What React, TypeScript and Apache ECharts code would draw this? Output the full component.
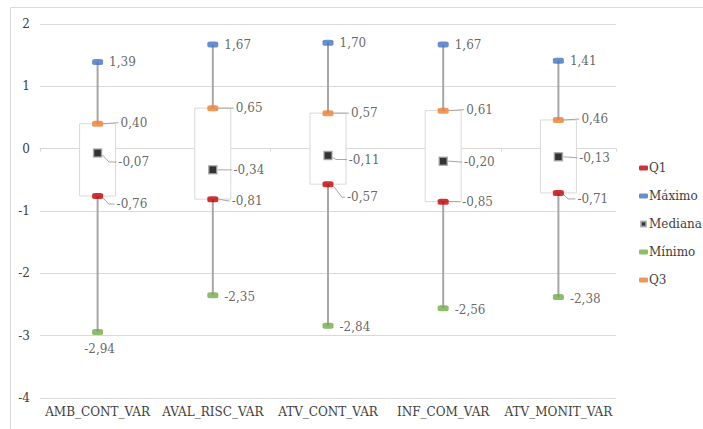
import React, { useEffect, useRef } from "react";
import * as echarts from "echarts";

const categories = ["AMB_CONT_VAR", "AVAL_RISC_VAR", "ATV_CONT_VAR", "INF_COM_VAR", "ATV_MONIT_VAR"];
const q1 = [-0.76, -0.81, -0.57, -0.85, -0.71];
const maximo = [1.39, 1.67, 1.7, 1.67, 1.41];
const mediana = [-0.07, -0.34, -0.11, -0.2, -0.13];
const minimo = [-2.94, -2.35, -2.84, -2.56, -2.38];
const q3 = [0.4, 0.65, 0.57, 0.61, 0.46];
const yMin = -4;
const yMax = 2;
const yStep = 1;

const FONT = "DejaVu Serif";
const FS = 12;
const fmt = (v: number) => v.toFixed(2).replace(".", ",");

export default function App() {
  const ref = useRef<HTMLDivElement>(null);
  useEffect(() => {
    if (!ref.current) return;
    const chart = echarts.init(ref.current, null, { renderer: "svg" });

    // label layout tweaks (pixels, relative to marker centre)
    const Q3_DX = 23, MED_DX = 21, Q1_DX = 19;
    const q3Dy = [-1, 0, 0, -1, -1];
    const medDy = [9, 0, 4, 1, 1];
    const q1Dy = [8, 2, 13, 0, 6];
    const DASH_HALF = 5.5;

    const labelBase = {
      show: true,
      fontFamily: FONT,
      fontSize: FS,
      color: "#404040",
      formatter: (p: any) => fmt(p.value[1]),
    };

    const mkItems = (arr: number[], dx: number, dys: number[], half: number) =>
      arr.map((v, i) => ({
        value: [i, v],
        label: { position: "right", distance: 0, offset: [dx - half, dys[i]] },
      }));

    const boxData = categories.map((_, i) => [i, minimo[i], q1[i], mediana[i], q3[i], maximo[i]]);
    const leaderData = categories.map((_, i) => [i, q1[i], mediana[i], q3[i]]);

    const option: any = {
      animation: false,
      backgroundColor: "#ffffff",
      textStyle: { fontFamily: FONT },
      graphic: [
        {
          type: "rect",
          silent: true,
          z: -10,
          shape: { x: 10.5, y: 7.5, width: 800, height: 500 },
          style: { fill: "none", stroke: "#d9d9d9", lineWidth: 1 },
        },
      ],
      grid: { left: 40, right: 87, top: 24, bottom: 31 },
      legend: {
        orient: "vertical",
        left: 634,
        top: 155,
        itemWidth: 9,
        itemHeight: 5,
        itemGap: 12,
        textStyle: { fontFamily: FONT, fontSize: FS, color: "#404040", lineHeight: 16, padding: [0, 0, 0, -4] },
        data: [
          { name: "Q1" },
          { name: "Máximo" },
          { name: "Mediana", icon: "path://M0,0h10v10h-10z" },
          { name: "Mínimo" },
          { name: "Q3" },
        ],
      },
      xAxis: [
        {
          type: "category",
          data: categories,
          position: "bottom",
          axisLine: { show: false, onZero: false },
          axisTick: { show: false },
          axisLabel: { fontFamily: FONT, fontSize: FS, color: "#404040", margin: 8, interval: 0 },
          splitLine: { show: false },
        },
        {
          type: "category",
          data: categories,
          position: "bottom",
          axisLine: { show: true, onZero: true, lineStyle: { color: "#d9d9d9", width: 1 } },
          axisTick: { show: true, length: 3, lineStyle: { color: "#d9d9d9" } },
          axisLabel: { show: false },
          splitLine: { show: false },
        },
      ],
      yAxis: {
        type: "value",
        min: yMin,
        max: yMax,
        interval: yStep,
        axisLine: { show: false },
        axisTick: { show: false },
        axisLabel: { fontFamily: FONT, fontSize: FS, color: "#404040", margin: 10 },
        splitLine: { lineStyle: { color: "#d9d9d9", width: 1 } },
      },
      series: [
        {
          type: "custom",
          name: "box",
          xAxisIndex: 0,
          z: 1,
          silent: true,
          data: boxData,
          encode: { x: 0, y: [1, 2, 3, 4, 5] },
          renderItem: (params: any, api: any) => {
            const i = api.value(0);
            const pMin = api.coord([i, api.value(1)]);
            const pQ1 = api.coord([i, api.value(2)]);
            const pQ3 = api.coord([i, api.value(4)]);
            const pMax = api.coord([i, api.value(5)]);
            const w = 36;
            const lineStyle = { stroke: "#a6a6a6", lineWidth: 2 };
            return {
              type: "group",
              children: [
                {
                  type: "rect",
                  shape: { x: pQ3[0] - w / 2, y: pQ3[1], width: w, height: pQ1[1] - pQ3[1] },
                  style: { fill: "#ffffff", stroke: "#d9d9d9", lineWidth: 1 },
                },
                { type: "line", shape: { x1: pMax[0], y1: pMax[1], x2: pQ3[0], y2: pQ3[1] }, style: lineStyle },
                { type: "line", shape: { x1: pQ1[0], y1: pQ1[1], x2: pMin[0], y2: pMin[1] }, style: lineStyle },
              ],
            };
          },
        },
        {
          type: "custom",
          name: "leaders",
          xAxisIndex: 0,
          z: 2,
          silent: true,
          data: leaderData,
          encode: { x: 0, y: [1, 2, 3] },
          renderItem: (params: any, api: any) => {
            const i = api.value(0);
            const specs = [
              { v: api.value(1), dx: Q1_DX, dy: q1Dy[i], half: DASH_HALF },
              { v: api.value(2), dx: MED_DX, dy: medDy[i], half: 5 },
              { v: api.value(3), dx: Q3_DX, dy: q3Dy[i], half: DASH_HALF },
            ];
            const children = specs.map((s) => {
              const p = api.coord([i, s.v]);
              const start = [p[0] + s.half, p[1] + (Math.abs(s.dy) > 2 ? 2 : 0)];
              const end = [p[0] + s.dx - 2, p[1] + s.dy];
              const pts =
                Math.abs(s.dy) > 2
                  ? [start, [Math.min(p[0] + s.half + Math.abs(s.dy) * 0.7, end[0] - 3), p[1] + s.dy], end]
                  : [start, end];
              return {
                type: "polyline",
                shape: { points: pts },
                style: { stroke: "#a6a6a6", lineWidth: 1, fill: "none" },
              };
            });
            return { type: "group", children };
          },
        },
        {
          type: "scatter",
          name: "Q1",
          z: 3,
          symbol: "roundRect",
          symbolSize: [11, 6],
          itemStyle: { color: "#c00000" },
          label: { ...labelBase },
          data: mkItems(q1, Q1_DX, q1Dy, DASH_HALF),
        },
        {
          type: "scatter",
          name: "Máximo",
          z: 3,
          symbol: "roundRect",
          symbolSize: [11, 6],
          itemStyle: { color: "#4472c4" },
          label: { ...labelBase, position: "right", distance: 6 },
          data: maximo.map((v, i) => [i, v]),
        },
        {
          type: "scatter",
          name: "Mediana",
          z: 3,
          symbol: "rect",
          symbolSize: 8,
          itemStyle: { color: "#000000", borderColor: "#a6a6a6", borderWidth: 1.5 },
          label: { ...labelBase },
          data: mkItems(mediana, MED_DX, medDy, 5),
        },
        {
          type: "scatter",
          name: "Mínimo",
          z: 3,
          symbol: "roundRect",
          symbolSize: [11, 6],
          itemStyle: { color: "#70ad47" },
          label: { ...labelBase, position: "right", distance: 6, offset: [0, 1.5] },
          data: minimo.map((v, i) =>
            i === 0
              ? { value: [i, v], label: { position: "bottom", distance: 8, offset: [2, 0] } }
              : { value: [i, v] }
          ),
        },
        {
          type: "scatter",
          name: "Q3",
          z: 3,
          symbol: "roundRect",
          symbolSize: [11, 6],
          itemStyle: { color: "#ed7d31" },
          label: { ...labelBase },
          data: mkItems(q3, Q3_DX, q3Dy, DASH_HALF),
        },
      ],
    };

    chart.setOption(option);
    return () => chart.dispose();
  }, []);

  return (
    <div
      ref={ref}
      style={{ position: "fixed", left: 0, top: 0, width: 703, height: 429, background: "#fff" }}
    />
  );
}
